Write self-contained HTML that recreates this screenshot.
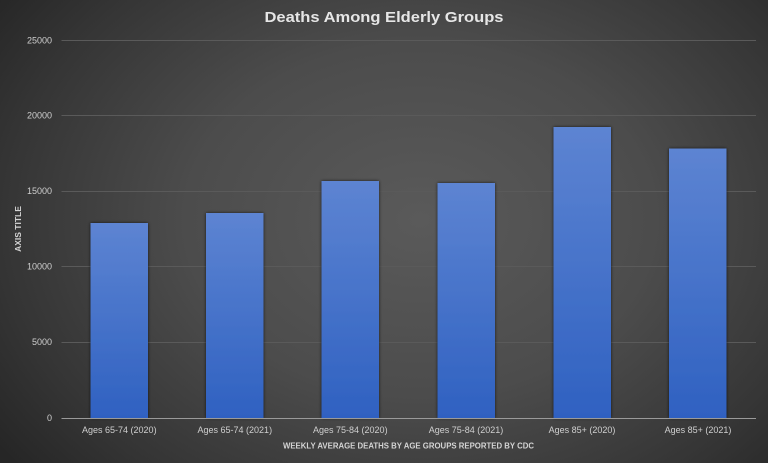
<!DOCTYPE html>
<html><head><meta charset="utf-8">
<style>
html,body{margin:0;padding:0;background:#2a2a2a;}
svg{display:block;}
text{font-family:"Liberation Sans",sans-serif;}
</style></head>
<body>
<svg width="768" height="463" viewBox="0 0 768 463" xmlns="http://www.w3.org/2000/svg">
<defs>
<radialGradient id="bg" cx="420" cy="220" r="520" gradientUnits="userSpaceOnUse" gradientTransform="translate(420 220) scale(1 0.75) translate(-420 -220)">
<stop offset="0" stop-color="#5a5a5a"/>
<stop offset="0.45" stop-color="#4c4c4c"/>
<stop offset="0.8" stop-color="#353535"/>
<stop offset="1" stop-color="#262626"/>
</radialGradient>
<linearGradient id="bar" x1="0" y1="0" x2="0" y2="1">
<stop offset="0" stop-color="#5d84d2"/>
<stop offset="1" stop-color="#2f61c1"/>
</linearGradient>
<filter id="sh" x="-20%" y="-5%" width="140%" height="110%">
<feGaussianBlur in="SourceAlpha" stdDeviation="1.5"/>
<feOffset dx="0" dy="0"/>
<feComponentTransfer><feFuncA type="linear" slope="0.7"/></feComponentTransfer>
<feMerge><feMergeNode/><feMergeNode in="SourceGraphic"/></feMerge>
</filter>
</defs>
<rect width="768" height="463" fill="url(#bg)"/>

<text x="384" y="22" text-anchor="middle" font-size="15" font-weight="bold" fill="#e6e6e6" textLength="239" lengthAdjust="spacingAndGlyphs">Deaths Among Elderly Groups</text>

<g stroke="#5a5a5a" stroke-width="1">
<line x1="61.5" y1="40.5" x2="756" y2="40.5"/>
<line x1="61.5" y1="115.5" x2="756" y2="115.5"/>
<line x1="61.5" y1="191.5" x2="756" y2="191.5"/>
<line x1="61.5" y1="266.5" x2="756" y2="266.5"/>
<line x1="61.5" y1="342.5" x2="756" y2="342.5"/>
</g>

<g font-size="9" fill="#cfcfcf" text-anchor="end">
<text x="52" y="43.5">25000</text>
<text x="52" y="118.5">20000</text>
<text x="52" y="194">15000</text>
<text x="52" y="269.5">10000</text>
<text x="52" y="345">5000</text>
<text x="52" y="421">0</text>
</g>

<text transform="translate(21 229) rotate(-90)" text-anchor="middle" font-size="8.5" font-weight="bold" fill="#d4d4d4">AXIS TITLE</text>

<g fill="url(#bar)" filter="url(#sh)">
<rect x="90.5" y="223" width="57.5" height="195"/>
<rect x="206" y="213" width="57.5" height="205"/>
<rect x="321.5" y="181" width="57.5" height="237"/>
<rect x="437.5" y="183" width="57.5" height="235"/>
<rect x="553.5" y="127" width="57.5" height="291"/>
<rect x="669" y="148.5" width="57.5" height="269.5"/>
</g>

<line x1="61.5" y1="418.5" x2="756" y2="418.5" stroke="#9a9a9a" stroke-width="1"/>

<g font-size="9" fill="#cfcfcf" text-anchor="middle">
<text x="119.3" y="433">Ages 65-74 (2020)</text>
<text x="234.8" y="433">Ages 65-74 (2021)</text>
<text x="350.3" y="433">Ages 75-84 (2020)</text>
<text x="466" y="433">Ages 75-84 (2021)</text>
<text x="582" y="433">Ages 85+ (2020)</text>
<text x="698" y="433">Ages 85+ (2021)</text>
</g>

<text x="408.5" y="448.5" text-anchor="middle" font-size="8.5" font-weight="bold" fill="#d4d4d4" textLength="251" lengthAdjust="spacingAndGlyphs">WEEKLY AVERAGE DEATHS BY AGE GROUPS REPORTED BY CDC</text>
</svg>
</body></html>
